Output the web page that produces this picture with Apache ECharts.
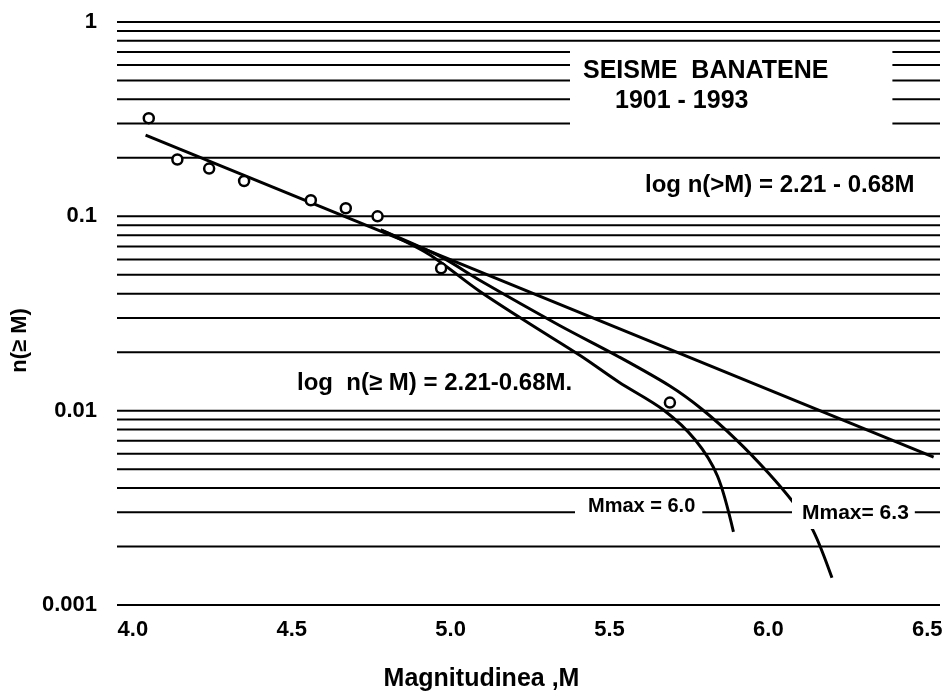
<!DOCTYPE html>
<html>
<head>
<meta charset="utf-8">
<script src="https://cdn.jsdelivr.net/npm/echarts@6/dist/echarts.min.js"></script>
<style>
  html, body { margin: 0; padding: 0; background: #fff; }
  #chart { width: 947px; height: 696px; }
</style>
</head>
<body>
<div id="chart"></div>
<script>
// axis ticks
const xMin = 3.95;
const xMax = 6.54;
const xTicks = [4.0, 4.5, 5.0, 5.5, 6.0, 6.5];
const yTicks = [0.001, 0.01, 0.1, 1];
// horizontal rulings of the log paper
const rulings = [
  1, 0.9, 0.8, 0.7, 0.6, 0.5, 0.4, 0.3, 0.2,
  0.1, 0.09, 0.08, 0.07, 0.06, 0.05, 0.04, 0.03, 0.02,
  0.01, 0.009, 0.008, 0.007, 0.006, 0.005, 0.004, 0.003, 0.002,
  0.001,
];

// observed points
const obsM = [4.05, 4.14, 4.24, 4.35, 4.56, 4.67, 4.77, 4.97, 5.69];
const obsN = [0.32, 0.196, 0.176, 0.152, 0.121, 0.11, 0.1, 0.054, 0.011];

// log n(>M) = 2.21 - 0.68M
const fitM = [4.04, 6.52];
const fitN = [0.262, 0.00577];

// Mmax = 6.0
const m60M = [4.78, 4.93, 5.09, 5.25, 5.41, 5.53, 5.67, 5.77, 5.84, 5.89];
const m60N = [0.0851, 0.064, 0.0413, 0.0279, 0.0191, 0.0140, 0.01008, 0.00706, 0.0046, 0.00238];

// Mmax = 6.3
const m63M = [4.78, 4.97, 5.09, 5.34, 5.53, 5.69, 5.79, 5.90, 6.00, 6.08, 6.14, 6.20];
const m63N = [0.0851, 0.0618, 0.047, 0.0276, 0.0189, 0.01339, 0.0102, 0.00706, 0.00478, 0.00335, 0.00243, 0.00138];

const zip = (a, b) => a.map((v, i) => [v, b[i]]);
const font = "Liberation Sans";
const lbl = (size) => ({ fontFamily: font, fontSize: size, fontWeight: "bold", color: "#000" });

const rulingSeries = rulings.map((v) => ({
  type: "line",
  data: [[xMin, v], [xMax, v]],
  showSymbol: false,
  silent: true,
  lineStyle: { color: "#000", width: 2 },
  z: 1,
}));

const chart = echarts.init(document.getElementById("chart"));
chart.setOption({
  animation: false,
  backgroundColor: "#fff",
  textStyle: { fontFamily: font, color: "#000" },
  grid: {
    left: 117,
    right: 7,
    top: 22,
    bottom: 91,
    containLabel: false,
    outerBoundsMode: "none",
  },
  title: [
    {
      left: 570,
      top: 46,
      padding: [10, 64, 16, 13],
      backgroundColor: "#fff",
      text: "{a|SEISME  BANATENE}\n{b|1901 - 1993}",
      textStyle: {
        rich: {
          a: Object.assign(lbl(25), { lineHeight: 30 }),
          b: Object.assign(lbl(25), { lineHeight: 30, padding: [0, 0, 0, 32] }),
        },
      },
    },
    {
      left: 645,
      top: 171,
      padding: 0,
      text: "log n(>M) = 2.21 - 0.68M",
      textStyle: Object.assign(lbl(24), { lineHeight: 28 }),
    },
    {
      left: 297,
      top: 369,
      padding: 0,
      text: "log  n(≥ M) = 2.21-0.68M.",
      textStyle: Object.assign(lbl(24), { lineHeight: 28 }),
    },
    {
      left: 575,
      top: 490,
      padding: [4, 7, 4, 13],
      backgroundColor: "#fff",
      text: "Mmax = 6.0",
      textStyle: Object.assign(lbl(20), { lineHeight: 24 }),
    },
    {
      left: 792,
      top: 497,
      padding: [4, 6, 4, 10],
      backgroundColor: "#fff",
      text: "Mmax= 6.3",
      textStyle: Object.assign(lbl(21), { lineHeight: 24 }),
    },
  ],
  xAxis: {
    type: "value",
    min: xMin,
    max: xMax,
    name: "Magnitudinea ,M",
    nameLocation: "middle",
    nameGap: 62,
    nameTextStyle: Object.assign(lbl(25), { padding: [0, 94, 0, 0] }),
    axisLine: { show: false },
    axisTick: { show: false },
    splitLine: { show: false },
    axisLabel: Object.assign(lbl(22), {
      customValues: xTicks,
      formatter: (v) => v.toFixed(1),
      margin: 14,
    }),
  },
  yAxis: {
    type: "log",
    logBase: 10,
    min: 0.001,
    max: 1,
    name: "n(≥ M)",
    nameLocation: "middle",
    nameGap: 84,
    nameTextStyle: Object.assign(lbl(22), { padding: [0, 54, 0, 0] }),
    axisLine: { show: false },
    axisTick: { show: false },
    splitLine: { show: false },
    axisLabel: Object.assign(lbl(22), {
      customValues: yTicks,
      formatter: (v) => String(+(+v).toPrecision(1)),
      margin: 20,
    }),
  },
  series: rulingSeries.concat([
    {
      name: "log n(>M) = 2.21 - 0.68M",
      type: "line",
      data: zip(fitM, fitN),
      showSymbol: false,
      lineStyle: { color: "#000", width: 3 },
      z: 3,
    },
    {
      name: "Mmax = 6.0",
      type: "line",
      data: zip(m60M, m60N),
      smooth: 0.3,
      showSymbol: false,
      lineStyle: { color: "#000", width: 3 },
      z: 3,
    },
    {
      name: "Mmax = 6.3",
      type: "line",
      data: zip(m63M, m63N),
      smooth: 0.3,
      showSymbol: false,
      lineStyle: { color: "#000", width: 3 },
      z: 3,
    },
    {
      name: "observed",
      type: "scatter",
      data: zip(obsM, obsN),
      symbol: "circle",
      symbolSize: 10,
      itemStyle: { color: "#fff", borderColor: "#000", borderWidth: 2.5, opacity: 1 },
      z: 4,
    },
  ]),
});
</script>
</body>
</html>
